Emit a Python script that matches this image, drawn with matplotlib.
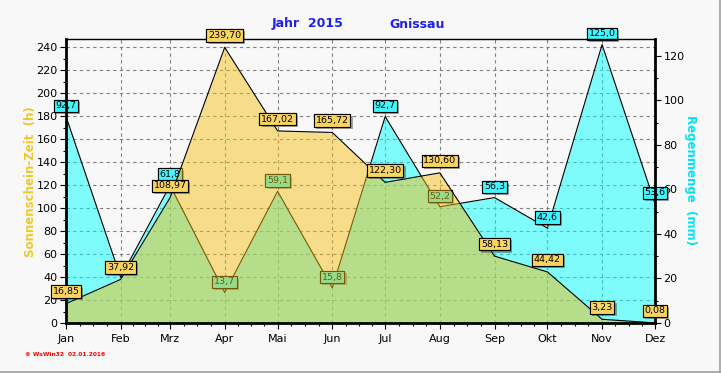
import numpy as np
import pandas as pd
import matplotlib
matplotlib.use("Agg")
import matplotlib.pyplot as plt
import matplotlib.patheffects as pe
from matplotlib.lines import Line2D
from matplotlib.ticker import MultipleLocator, FixedLocator

months = ["Jan", "Feb", "Mrz", "Apr", "Mai", "Jun", "Jul", "Aug", "Sep", "Okt", "Nov", "Dez"]
sun_hours = [16.85, 37.92, 108.97, 239.70, 167.02, 165.72, 122.30, 130.60, 58.13, 44.42, 3.23, 0.08]
rain_mm = [92.7, 20.5, 61.8, 13.7, 59.1, 15.8, 92.7, 52.2, 56.3, 42.6, 125.0, 53.6]

_BG = "#F8F8F8"
_GRID = "#808080"
_SUN_FILL, _SUN_BOX = "#F6BF0E", "#F9D45E"
_RAIN_FILL, _RAIN_BOX = "#00FFFF", "#40F6FF"

# month positions = day of year of the 1st of each month
starts = pd.date_range("2015-01-01", periods=12, freq="MS")
xpos = np.asarray(starts.dayofyear - 1, dtype=float)
minor = [xpos[i] + k * (xpos[i + 1] - xpos[i]) / 4
         for i in range(len(xpos) - 1) for k in (1, 2, 3)]

fig = plt.figure(figsize=(7.21, 3.73), dpi=100, facecolor=_BG)
ax = fig.add_axes([66 / 721, 50 / 373, 589 / 721, 284 / 373], facecolor=_BG)
ax2 = ax.twinx()   # rain, drawn above the grid
ax3 = ax.twinx()   # sunshine, drawn on top

ax.set_xlim(xpos[0], xpos[-1])
ax.set_ylim(0, 247)
ax3.set_ylim(0, 247)
ax2.set_ylim(0, 127.5)

# grid on the bottom axes
ax.set_xticks(xpos)
ax.set_xticklabels(months)
ax.xaxis.set_minor_locator(FixedLocator(minor))
ax.yaxis.set_major_locator(MultipleLocator(20))
ax.yaxis.set_minor_locator(MultipleLocator(10))
ax.grid(True, which="major", color=_GRID, lw=0.8, ls=(0, (3, 3)))
ax2.yaxis.set_major_locator(MultipleLocator(20))
ax2.yaxis.set_minor_locator(MultipleLocator(10))

for a in (ax, ax2):
    a.tick_params(which="major", direction="out", length=4, width=0.8,
                  labelsize=8, pad=2)
    a.tick_params(which="minor", direction="out", length=2.5, width=0.8)
ax.tick_params(axis="x", pad=4)

# rain (cyan, semi-transparent)
ax2.fill_between(xpos, 0, rain_mm, color=_RAIN_FILL, alpha=0.49, lw=0)
ax2.plot(xpos, rain_mm, color="black", lw=0.8)

# sunshine (yellow, semi-transparent -> green where it covers the rain)
ax3.fill_between(xpos, 0, sun_hours, color=_SUN_FILL, alpha=0.475, lw=0)
ax3.plot(xpos, sun_hours, color="black", lw=0.8)
ax3.yaxis.set_visible(False)

shadow = [pe.withSimplePatchShadow(offset=(1.5, -1.5), shadow_rgbFace="#404040", alpha=0.45),
          pe.Normal()]


def _label(a, x, y, txt, face, dy):
    t = a.annotate(txt, (x, y), xytext=(0, dy), textcoords="offset points",
                   ha="center", va="center", fontsize=6.8, color="black",
                   annotation_clip=False,
                   bbox=dict(boxstyle="square,pad=0.18", fc=face, ec="black", lw=0.8))
    t.get_bbox_patch().set_path_effects(shadow)


for x, v, s in zip(xpos, rain_mm, sun_hours):
    # the Feb rain box sits right under the sunshine box in the original
    if abs(v / 127.5 - s / 247) > 0.03:
        _label(ax2, x, v, f"{v:.1f}".replace(".", ","), _RAIN_BOX, 7.7)
for x, v in zip(xpos, sun_hours):
    _label(ax3, x, v, f"{v:.2f}".replace(".", ","), _SUN_BOX, 8.6)

# spines on the top axes, others hidden
for a in (ax, ax2):
    for s in a.spines.values():
        s.set_visible(False)
for side, w in (("left", 2), ("bottom", 2), ("right", 2), ("top", 1)):
    ax3.spines[side].set_linewidth(w)
    ax3.spines[side].set_color("black")

fig.text(308 / 721, 1 - 24 / 373, "Jahr  2015", ha="center", va="center",
         color="#2020EE", fontsize=9, fontweight="bold")
fig.text(417 / 721, 1 - 24 / 373, "Gnissau", ha="center", va="center",
         color="#2020EE", fontsize=9, fontweight="bold")
fig.text(31 / 721, 1 - 182 / 373, "Sonnenschein-Zeit  (h)", rotation=90,
         ha="center", va="center", color="#F0C828", fontsize=8.5, fontweight="bold")
fig.text(690 / 721, 1 - 180 / 373, "Regenmenge  (mm)", rotation=270,
         ha="center", va="center", color="#00E4F0", fontsize=8.5, fontweight="bold")
fig.text(25 / 721, 1 - 354 / 373, "© WsWin32  02.01.2016", ha="left", va="center",
         color="red", fontsize=4.2, fontweight="bold")

# window frame lines (right and bottom)
fig.add_artist(Line2D([719.5 / 721] * 2, [0, 1], color="#A0A0A0", lw=1.2))
fig.add_artist(Line2D([0, 1], [1.5 / 373] * 2, color="#A0A0A0", lw=1.2))

fig.savefig("out.png", dpi=100, facecolor=_BG)
